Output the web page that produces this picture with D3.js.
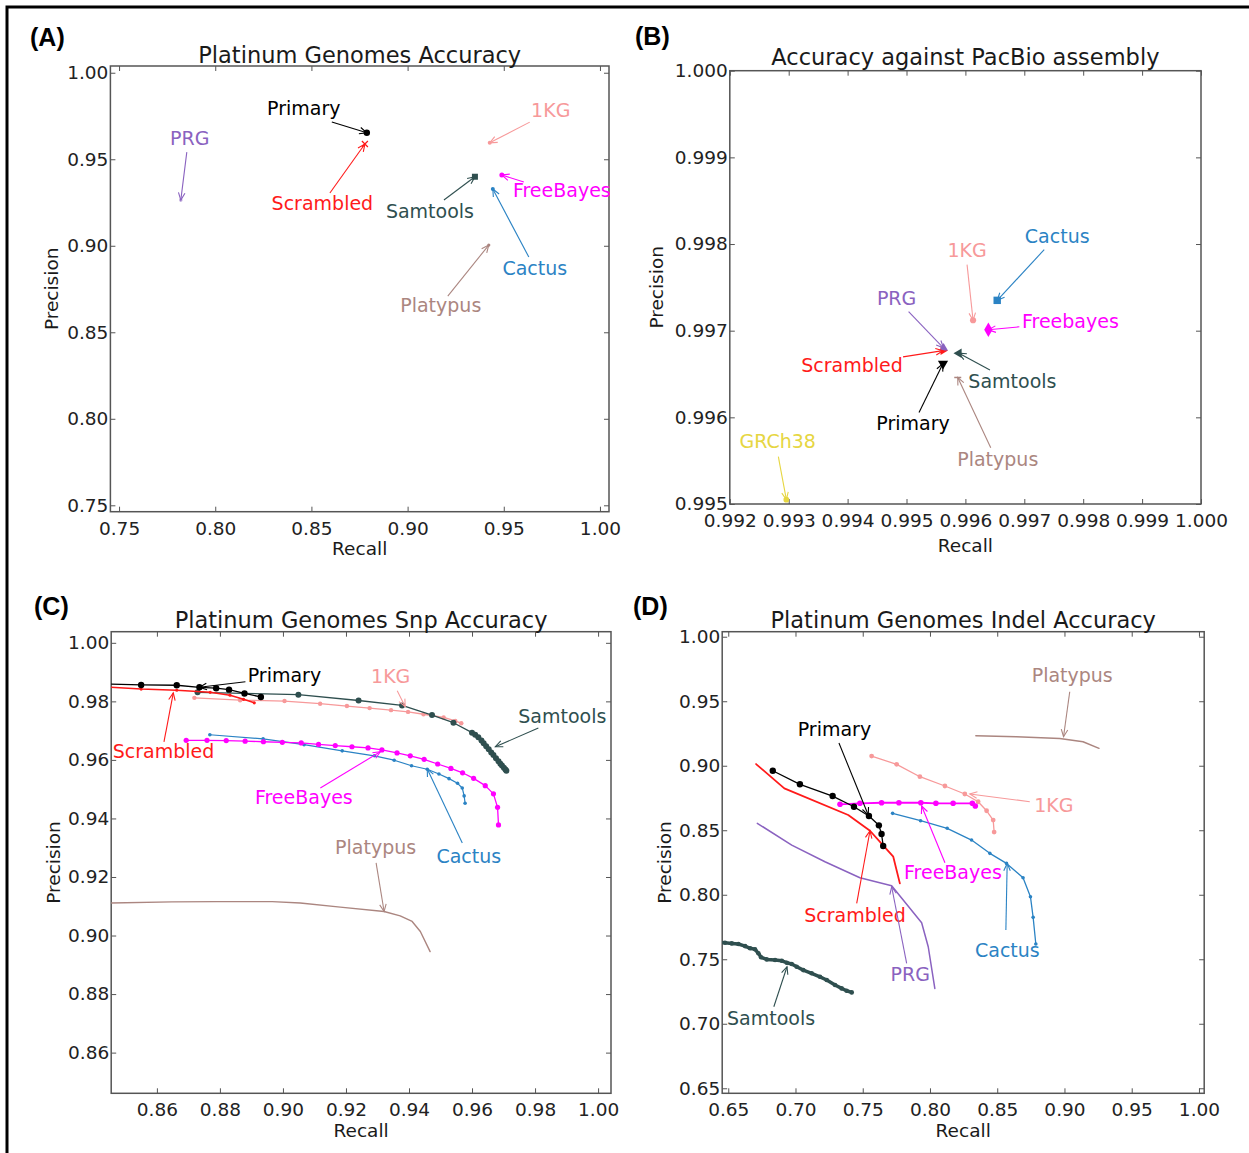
<!DOCTYPE html>
<html>
<head>
<meta charset="utf-8">
<script src="https://cdn.jsdelivr.net/npm/d3@7"></script>
<style>
  body { margin: 0; background: #fff; }
  svg { display: block; }
</style>
</head>
<body>
<svg id="fig" width="1249" height="1153"></svg>
<script>
// ---------------------------------------------------------------
// Data
// ---------------------------------------------------------------

// (A) overall accuracy against Platinum Genomes
const overallNames     = ["Primary", "Scrambled", "PRG", "1KG", "Samtools", "FreeBayes", "Cactus", "Platypus"];
const overallRecall    = [0.8788, 0.8778, 0.7821, 0.9427, 0.9350, 0.9490, 0.9443, 0.9422];
const overallPrecision = [0.9653, 0.9588, 0.9264, 0.9595, 0.9399, 0.9409, 0.9328, 0.9004];

// (B) accuracy against the PacBio assembly
const pacbioNames     = ["Primary", "Scrambled", "PRG", "1KG", "Samtools", "Freebayes", "Cactus", "Platypus", "GRCh38"];
const pacbioRecall    = [0.99562, 0.99562, 0.99563, 0.99613, 0.99589, 0.99639, 0.99654, 0.99587, 0.99296];
const pacbioPrecision = [0.99662, 0.99677, 0.99680, 0.99712, 0.99674, 0.99701, 0.99735, 0.99646, 0.99505];

// (C) SNP precision/recall curves, [recall, precision]
const snpPrimary = [[0.8440, 0.9859], [0.8550, 0.9856], [0.8663, 0.9855], [0.8735, 0.9848], [0.8788, 0.9845],
  [0.8829, 0.9840], [0.8878, 0.9827], [0.8930, 0.9815]];
const snpScrambled = [[0.8440, 0.9849], [0.8550, 0.9842], [0.8663, 0.9838], [0.8769, 0.9831], [0.8832, 0.9821],
  [0.8875, 0.9807], [0.8909, 0.9795]];
const snp1KG = [[0.8719, 0.9812], [0.8864, 0.9804], [0.9005, 0.9801], [0.9118, 0.9792], [0.9203, 0.9784],
  [0.9275, 0.9777], [0.9343, 0.9770], [0.9397, 0.9764], [0.9446, 0.9756], [0.9510, 0.9745], [0.9547, 0.9733],
  [0.9566, 0.9725]];
const snpSamtools = [[0.8729, 0.9831], [0.9049, 0.9823], [0.9240, 0.9803], [0.9378, 0.9786], [0.9473, 0.9753],
  [0.9541, 0.9727], [0.9600, 0.9693], [0.9610, 0.9686], [0.9620, 0.9677], [0.9630, 0.9666], [0.9637, 0.9657],
  [0.9645, 0.9647], [0.9653, 0.9636], [0.9661, 0.9625], [0.9668, 0.9617], [0.9676, 0.9606], [0.9684, 0.9595],
  [0.9690, 0.9587], [0.9695, 0.9581], [0.9701, 0.9573], [0.9706, 0.9567], [0.9709, 0.9563]];
const snpFreeBayes = [[0.8693, 0.9667], [0.8759, 0.9667], [0.8820, 0.9666], [0.8880, 0.9664], [0.8938, 0.9662],
  [0.8998, 0.9660], [0.9058, 0.9658], [0.9113, 0.9653], [0.9166, 0.9649], [0.9219, 0.9645], [0.9270, 0.9641],
  [0.9314, 0.9634], [0.9362, 0.9624], [0.9404, 0.9614], [0.9448, 0.9602], [0.9491, 0.9586], [0.9533, 0.9571],
  [0.9570, 0.9556], [0.9605, 0.9537], [0.9642, 0.9512], [0.9668, 0.9484], [0.9681, 0.9438], [0.9684, 0.9378]];
const snpCactus = [[0.8768, 0.9686], [0.8937, 0.9672], [0.9067, 0.9652], [0.9188, 0.9631], [0.9290, 0.9614],
  [0.9353, 0.9599], [0.9408, 0.9580], [0.9458, 0.9568], [0.9495, 0.9552], [0.9527, 0.9536], [0.9554, 0.9520],
  [0.9569, 0.9504], [0.9575, 0.9477], [0.9578, 0.9452]];
const snpPlatypus = [[0.8440, 0.9111], [0.8648, 0.9115], [0.8788, 0.9116], [0.8966, 0.9116], [0.9055, 0.9111],
  [0.9182, 0.9097], [0.9321, 0.9082], [0.9372, 0.9067], [0.9410, 0.9048], [0.9436, 0.9014], [0.9467, 0.8945]];

// (D) indel precision/recall curves, [recall, precision]
const indelPrimary = [[0.6831, 0.8961], [0.7033, 0.8856], [0.7276, 0.8765], [0.7435, 0.8682], [0.7546, 0.8610],
  [0.7620, 0.8538], [0.7640, 0.8471], [0.7652, 0.8378]];
const indelScrambled = [[0.6707, 0.9013], [0.6917, 0.8825], [0.7392, 0.8618], [0.7554, 0.8496], [0.7665, 0.8367],
  [0.7727, 0.8295], [0.7776, 0.8088]];
const indelPRG = [[0.6716, 0.8554], [0.6972, 0.8385], [0.7219, 0.8256], [0.7479, 0.8132], [0.7715, 0.8070],
  [0.7938, 0.7783], [0.7987, 0.7597], [0.8036, 0.7274]];
const indel1KG = [[0.7566, 0.9075], [0.7752, 0.9011], [0.7925, 0.8915], [0.8111, 0.8843], [0.8259, 0.8781],
  [0.8358, 0.8721], [0.8421, 0.8651], [0.8470, 0.8579], [0.8477, 0.8486]];
const indelFreeBayes = [[0.7331, 0.8701], [0.7479, 0.8709], [0.7640, 0.8713], [0.7769, 0.8713], [0.7932, 0.8713],
  [0.8044, 0.8709], [0.8172, 0.8709], [0.8315, 0.8709], [0.8337, 0.8688]];
const indelCactus = [[0.7722, 0.8631], [0.7930, 0.8574], [0.8128, 0.8515], [0.8309, 0.8424], [0.8445, 0.8321],
  [0.8569, 0.8243], [0.8692, 0.8132], [0.8747, 0.7985], [0.8767, 0.7825], [0.8787, 0.7618]];
const indelSamtools = [[0.6430, 0.7630], [0.6476, 0.7628], [0.6526, 0.7623], [0.6575, 0.7618], [0.6625, 0.7602],
  [0.6662, 0.7585], [0.6699, 0.7577], [0.6724, 0.7546], [0.6744, 0.7515], [0.6786, 0.7499], [0.6848, 0.7494],
  [0.6898, 0.7488], [0.6935, 0.7473], [0.6972, 0.7463], [0.7009, 0.7442], [0.7058, 0.7416], [0.7120, 0.7391],
  [0.7182, 0.7364], [0.7232, 0.7339], [0.7294, 0.7300], [0.7343, 0.7274], [0.7380, 0.7256], [0.7418, 0.7243]];
const indelPlatypus = [[0.8341, 0.9233], [0.8643, 0.9225], [0.8965, 0.9212], [0.9138, 0.9186], [0.9257, 0.9135]];

// Axis limits and tick labels
const limA = { x: [0.7455, 1.0047], y: [0.7463, 1.0039] };
const limB = { x: [0.992, 1.000], y: [0.995, 1.000] };
const limC = { x: [0.8455, 1.0041], y: [0.8461, 1.0038] };
const limD = { x: [0.6455, 1.0039], y: [0.6461, 1.0039] };
const ticksA = [0.75, 0.80, 0.85, 0.90, 0.95, 1.00];
const ticksBx = [0.992, 0.993, 0.994, 0.995, 0.996, 0.997, 0.998, 0.999, 1.000];
const ticksBy = [0.995, 0.996, 0.997, 0.998, 0.999, 1.000];
const ticksC = [0.86, 0.88, 0.90, 0.92, 0.94, 0.96, 0.98, 1.00];
const ticksD = [0.65, 0.70, 0.75, 0.80, 0.85, 0.90, 0.95, 1.00];

// ---------------------------------------------------------------
// Styling and layout
// ---------------------------------------------------------------
const colour = {
  Primary: "#000000", Scrambled: "#ff1a1a", PRG: "#8a62c0", "1KG": "#f7999a",
  Samtools: "#2f4f4f", FreeBayes: "#ff00ff", Freebayes: "#ff00ff", Cactus: "#2b83c4",
  Platypus: "#ab8680", GRCh38: "#e6d642"
};
const FONT = "'DejaVu Sans', 'Bitstream Vera Sans', sans-serif";
const TICK_SIZE = 18.5, LABEL_SIZE = 18.5, NOTE_SIZE = 19, TITLE_SIZE = 22.5;

const panels = {
  A: { left: 110.4, right: 609, top: 66, bottom: 511.7, tag: "(A)", tagX: 30, tagY: 46,
       title: "Platinum Genomes Accuracy", titleDy: -3.5, ylabDx: -52, xlabDy: 43.5 },
  B: { left: 729.8, right: 1201, top: 70.7, bottom: 504, tag: "(B)", tagX: 635, tagY: 45,
       title: "Accuracy against PacBio assembly", titleDy: -5.7, ylabDx: -67, xlabDy: 47.5 },
  C: { left: 111.2, right: 611, top: 631.7, bottom: 1093.3, tag: "(C)", tagX: 34, tagY: 615,
       title: "Platinum Genomes Snp Accuracy", titleDy: -3.7, ylabDx: -51, xlabDy: 44 },
  D: { left: 722.2, right: 1204.2, top: 631.7, bottom: 1093.3, tag: "(D)", tagX: 633, tagY: 615,
       title: "Platinum Genomes Indel Accuracy", titleDy: -3.7, ylabDx: -51, xlabDy: 44 }
};

// Annotations: [label, label dx, label dy, arrow-tail dx, arrow-tail dy] in px from the point
const notesA = [
  ["Primary", -63, -17.7, -35, -10.7],
  ["Scrambled", -42.5, 66, -35, 49],
  ["PRG", 9, -55, 6, -48],
  ["1KG", 61, -26, 40, -20.7],
  ["Samtools", -45, 41.3, -31, 23.3],
  ["FreeBayes", 60, 22.3, 22, 7],
  ["Cactus", 42, 86, 36, 68],
  ["Platypus", -48, 67.3, -41, 51]
];
const notesB = [
  ["Primary", -30, 66, -24, 49],
  ["Scrambled", -91, 21.3, -40, 6.3],
  ["PRG", -47, -43.3, -35, -36.3],
  ["1KG", -6, -63.7, -6, -55.7],
  ["Samtools", 53.5, 34.7, 31, 16.7],
  ["Freebayes", 82, -2, 31, -3],
  ["Cactus", 60, -57.7, 47, -50.7],
  ["Platypus", 40, 88.3, 33, 70.3],
  ["GRCh38", -8.7, -52, -8, -43]
];
// Curve annotations: [label, recall, precision, label dx, label dy, tail dx, tail dy]
const notesC = [
  ["Primary", 0.8735, 0.9848, 85, -5.3, 46, -5.6],
  ["Scrambled", 0.8652, 0.9829, -9.8, 65.3, -9.3, 49],
  ["1KG", 0.9388, 0.9782, -14.5, -23.7, -8, -16],
  ["Samtools", 0.9674, 0.9645, 67, -23.7, 43, -18.7],
  ["FreeBayes", 0.9309, 0.9628, -76.5, 52.3, -60, 36.3],
  ["Cactus", 0.9458, 0.9569, 41.5, 94, 35, 74],
  ["Platypus", 0.9321, 0.9082, -8.5, -57.7, -8, -48.7]
];
const notesD = [
  ["Platypus", 0.8993, 0.9225, 8.7, -54.7, 6.2, -45],
  ["Primary", 0.7541, 0.8618, -33.8, -79, -29.3, -72],
  ["1KG", 0.8296, 0.8781, 84, 18, 60, 7.7],
  ["FreeBayes", 0.7938, 0.8688, 31.3, 73, 23.3, 56.7],
  ["Cactus", 0.8574, 0.8243, 0.2, 93.7, -1.3, 66.7],
  ["Scrambled", 0.7554, 0.8496, -15, 91.3, -13.3, 72.6],
  ["PRG", 0.7715, 0.8062, 18.6, 94.3, 15, 76.6],
  ["Samtools", 0.6937, 0.7442, -16, 58.3, -13.2, 40]
];

// ---------------------------------------------------------------
// Drawing
// ---------------------------------------------------------------
const svg = d3.select("#fig");
svg.append("rect").attr("width", 1249).attr("height", 1153).attr("fill", "#fff");
const defs = svg.append("defs");

// figure frame (top and left edges)
svg.append("path").attr("d", "M7,1153 L7,7 L1249,7")
  .attr("fill", "none").attr("stroke", "#000").attr("stroke-width", 3);

function styleAxis(sel) {
  sel.select(".domain").remove();
  sel.selectAll(".tick line").attr("stroke", "#555").attr("stroke-width", 1);
  sel.selectAll(".tick text").attr("font-family", FONT).attr("font-size", TICK_SIZE).attr("fill", "#222");
}

function makePanel(key, lim, xTicks, yTicks, fmt) {
  const L = panels[key];
  const x = d3.scaleLinear().domain(lim.x).range([L.left, L.right]);
  const y = d3.scaleLinear().domain(lim.y).range([L.bottom, L.top]);
  const g = svg.append("g");
  const clipId = "clip" + key;
  defs.append("clipPath").attr("id", clipId).append("rect")
    .attr("x", L.left).attr("y", L.top).attr("width", L.right - L.left).attr("height", L.bottom - L.top);

  g.append("g").attr("transform", `translate(0,${L.bottom})`)
    .call(d3.axisBottom(x).tickValues(xTicks).tickFormat(fmt).tickSizeInner(-5).tickSizeOuter(0).tickPadding(10))
    .call(styleAxis);
  g.append("g").attr("transform", `translate(0,${L.top})`)
    .call(d3.axisTop(x).tickValues(xTicks).tickFormat("").tickSizeInner(-5).tickSizeOuter(0))
    .call(styleAxis);
  g.append("g").attr("transform", `translate(${L.left},0)`)
    .call(d3.axisLeft(y).tickValues(yTicks).tickFormat(fmt).tickSizeInner(-5).tickSizeOuter(0).tickPadding(2))
    .call(styleAxis);
  g.append("g").attr("transform", `translate(${L.right},0)`)
    .call(d3.axisRight(y).tickValues(yTicks).tickFormat("").tickSizeInner(-5).tickSizeOuter(0))
    .call(styleAxis);

  g.append("rect").attr("x", L.left).attr("y", L.top)
    .attr("width", L.right - L.left).attr("height", L.bottom - L.top)
    .attr("fill", "none").attr("stroke", "#555").attr("stroke-width", 1.5);

  g.append("text").attr("x", (L.left + L.right) / 2).attr("y", L.top + L.titleDy)
    .attr("text-anchor", "middle").attr("font-family", FONT).attr("font-size", TITLE_SIZE).attr("fill", "#1a1a1a")
    .text(L.title);
  g.append("text").attr("x", (L.left + L.right) / 2).attr("y", L.bottom + L.xlabDy)
    .attr("text-anchor", "middle").attr("font-family", FONT).attr("font-size", LABEL_SIZE).attr("fill", "#1a1a1a")
    .text("Recall");
  g.append("text")
    .attr("transform", `translate(${L.left + L.ylabDx},${(L.top + L.bottom) / 2}) rotate(-90)`)
    .attr("text-anchor", "middle").attr("font-family", FONT).attr("font-size", LABEL_SIZE).attr("fill", "#1a1a1a")
    .text("Precision");
  svg.append("text").attr("x", L.tagX).attr("y", L.tagY)
    .attr("font-family", "'Liberation Sans', Arial, sans-serif").attr("font-weight", "bold")
    .attr("font-size", 25).attr("fill", "#000").text(L.tag);

  const plot = g.append("g").attr("clip-path", `url(#${clipId})`);
  const notes = g.append("g");
  return { x, y, plot, notes };
}

function arrow(g, x1, y1, x2, y2, col) {
  const a = Math.atan2(y2 - y1, x2 - x1), len = 8, spread = 0.42;
  g.append("line").attr("x1", x1).attr("y1", y1).attr("x2", x2).attr("y2", y2)
    .attr("stroke", col).attr("stroke-width", 1.1);
  const p = d3.path();
  p.moveTo(x2 - len * Math.cos(a - spread), y2 - len * Math.sin(a - spread));
  p.lineTo(x2, y2);
  p.lineTo(x2 - len * Math.cos(a + spread), y2 - len * Math.sin(a + spread));
  g.append("path").attr("d", p.toString()).attr("fill", "none").attr("stroke", col).attr("stroke-width", 1.1);
}

function label(g, px, py, text, col) {
  g.append("text").attr("x", px).attr("y", py).attr("text-anchor", "middle")
    .attr("font-family", FONT).attr("font-size", NOTE_SIZE).attr("fill", col).text(text);
}

const fmt2 = d3.format(".2f"), fmt3 = d3.format(".3f");

// ---------- (A) ----------
(function () {
  const P = makePanel("A", limA, ticksA, ticksA, fmt2);
  const markerA = { Primary: ["circle", 3.2], Scrambled: ["cross", 3], PRG: ["circle", 1.8], "1KG": ["circle", 2],
    Samtools: ["square", 3], FreeBayes: ["circle", 2.5], Cactus: ["circle", 2], Platypus: ["circle", 1.6] };
  overallNames.forEach((name, i) => {
    const cx = P.x(overallRecall[i]), cy = P.y(overallPrecision[i]);
    const [shape, r] = markerA[name];
    const col = colour[name];
    if (shape === "circle") {
      P.plot.append("circle").attr("cx", cx).attr("cy", cy).attr("r", r).attr("fill", col)
        .attr("opacity", name === "PRG" ? 0.5 : 1);
    } else if (shape === "square") {
      P.plot.append("rect").attr("x", cx - r).attr("y", cy - r).attr("width", 2 * r).attr("height", 2 * r).attr("fill", col);
    } else {
      P.plot.append("path").attr("d", `M${cx - r},${cy - r}L${cx + r},${cy + r}M${cx - r},${cy + r}L${cx + r},${cy - r}`)
        .attr("stroke", col).attr("stroke-width", 1.2);
    }
  });
  notesA.forEach(([name, lx, ly, tx, ty]) => {
    const i = overallNames.indexOf(name);
    const cx = P.x(overallRecall[i]), cy = P.y(overallPrecision[i]);
    arrow(P.notes, cx + tx, cy + ty, cx, cy, colour[name]);
    label(P.notes, cx + lx, cy + ly, name, colour[name]);
  });
})();

// ---------- (B) ----------
(function () {
  const P = makePanel("B", limB, ticksBx, ticksBy, fmt3);
  const markerB = {
    Primary: [d3.symbolTriangle, 45, 180], Scrambled: [d3.symbolTriangle, 32, 90], PRG: [d3.symbolTriangle, 32, 0],
    "1KG": [d3.symbolCircle, 30, 0], Samtools: [d3.symbolTriangle, 38, -90], Freebayes: [d3.symbolDiamond, 60, 0],
    Cactus: [d3.symbolSquare, 55, 0], Platypus: [null, 0, 0], GRCh38: [d3.symbolCircle, 26, 0]
  };
  pacbioNames.forEach((name, i) => {
    const cx = P.x(pacbioRecall[i]), cy = P.y(pacbioPrecision[i]);
    const [sym, size, rot] = markerB[name];
    if (sym) {
      P.plot.append("path").attr("d", d3.symbol(sym, size)())
        .attr("transform", `translate(${cx},${cy}) rotate(${rot})`).attr("fill", colour[name]);
    } else {
      P.plot.append("line").attr("x1", cx - 3.5).attr("x2", cx + 3.5).attr("y1", cy).attr("y2", cy)
        .attr("stroke", colour[name]).attr("stroke-width", 1.5);
    }
  });
  notesB.forEach(([name, lx, ly, tx, ty]) => {
    const i = pacbioNames.indexOf(name);
    const cx = P.x(pacbioRecall[i]), cy = P.y(pacbioPrecision[i]);
    arrow(P.notes, cx + tx, cy + ty, cx, cy, colour[name]);
    label(P.notes, cx + lx, cy + ly, name, colour[name]);
  });
})();

// curve drawing shared by (C) and (D)
function drawCurves(P, series) {
  const line = d3.line().x(d => P.x(d[0])).y(d => P.y(d[1]));
  series.forEach(([name, pts, width, r]) => {
    P.plot.append("path").attr("d", line(pts)).attr("fill", "none")
      .attr("stroke", colour[name]).attr("stroke-width", width)
      .attr("stroke-linejoin", "round").attr("stroke-linecap", "round");
    if (r > 0) {
      P.plot.selectAll(null).data(pts).join("circle")
        .attr("cx", d => P.x(d[0])).attr("cy", d => P.y(d[1])).attr("r", r).attr("fill", colour[name]);
    }
  });
}
function drawCurveNotes(P, notes) {
  notes.forEach(([name, rx, pr, lx, ly, tx, ty]) => {
    const cx = P.x(rx), cy = P.y(pr);
    arrow(P.notes, cx + tx, cy + ty, cx, cy, colour[name]);
    label(P.notes, cx + lx, cy + ly, name, colour[name]);
  });
}

// ---------- (C) ----------
(function () {
  const P = makePanel("C", limC, ticksC, ticksC, fmt2);
  drawCurves(P, [
    ["Platypus", snpPlatypus, 1.4, 0],
    ["Cactus", snpCactus, 1.2, 1.8],
    ["FreeBayes", snpFreeBayes, 1.3, 2.6],
    ["1KG", snp1KG, 1.3, 2.2],
    ["Samtools", snpSamtools, 1.3, 3],
    ["Scrambled", snpScrambled, 1.5, 1.6],
    ["Primary", snpPrimary, 1.3, 3.2]
  ]);
  drawCurveNotes(P, notesC);
})();

// ---------- (D) ----------
(function () {
  const P = makePanel("D", limD, ticksD, ticksD, fmt2);
  drawCurves(P, [
    ["Platypus", indelPlatypus, 1.5, 0],
    ["Samtools", indelSamtools, 3.5, 2.3],
    ["PRG", indelPRG, 1.5, 0],
    ["Cactus", indelCactus, 1.3, 1.8],
    ["1KG", indel1KG, 1.3, 2.4],
    ["Scrambled", indelScrambled, 1.8, 0],
    ["FreeBayes", indelFreeBayes, 1.8, 2.8],
    ["Primary", indelPrimary, 1.3, 3.2]
  ]);
  drawCurveNotes(P, notesD);
})();
</script>
</body>
</html>
